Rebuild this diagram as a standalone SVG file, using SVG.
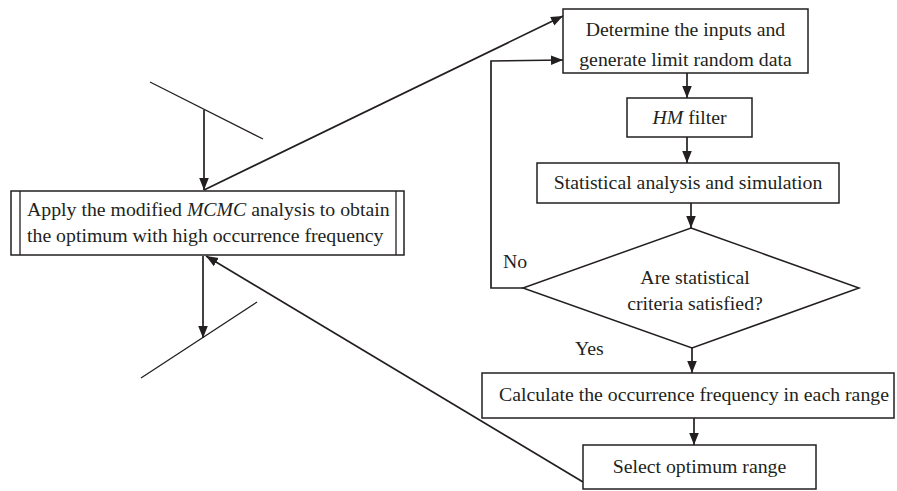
<svg xmlns="http://www.w3.org/2000/svg" width="897" height="491" viewBox="0 0 897 491">
<style>
.box{fill:#fff;stroke:#231f20;stroke-width:1.5}
.ln{fill:none;stroke:#231f20;stroke-width:1.7}
.thin{fill:none;stroke:#231f20;stroke-width:1.3}
text{font-family:"Liberation Serif","Times New Roman",serif;font-size:19.8px;fill:#231f20}
.c{text-anchor:middle}
</style>
<defs>
<marker id="ahl" viewBox="0 0 10 10" refX="10" refY="5" markerWidth="12" markerHeight="12" markerUnits="userSpaceOnUse" orient="auto">
<path d="M0,1 L10,5 L0,9 Z" fill="#231f20"/>
</marker>
</defs>
<g id="connectors">
<line class="thin" x1="150" y1="82" x2="263" y2="139"/>
<line class="ln" x1="204" y1="110" x2="204" y2="190" marker-end="url(#ahl)"/>
<line class="ln" x1="204" y1="190" x2="563" y2="16" marker-end="url(#ahl)"/>
<polyline class="ln" points="523,288 491,288 491,61 563,60" marker-end="url(#ahl)"/>
<line class="ln" x1="687" y1="73" x2="687" y2="98" marker-end="url(#ahl)"/>
<line class="ln" x1="687" y1="137" x2="687" y2="163" marker-end="url(#ahl)"/>
<line class="ln" x1="691" y1="203" x2="691" y2="228" marker-end="url(#ahl)"/>
<line class="ln" x1="692" y1="348" x2="692" y2="373" marker-end="url(#ahl)"/>
<line class="ln" x1="694" y1="418" x2="694" y2="445" marker-end="url(#ahl)"/>
<line class="ln" x1="583" y1="482" x2="206" y2="256" marker-end="url(#ahl)"/>
<line class="ln" x1="203" y1="256" x2="203" y2="338" marker-end="url(#ahl)"/>
<line class="thin" x1="141" y1="378" x2="257" y2="302"/>
</g>
<g id="node-mcmc">
<rect class="box" x="11" y="191" width="393" height="64"/>
<line class="thin" x1="20" y1="191" x2="20" y2="255"/>
<line class="thin" x1="396" y1="191" x2="396" y2="255"/>
<text x="27" y="216">Apply the modified <tspan font-style="italic">MCMC</tspan> analysis to obtain</text>
<text x="27" y="242">the optimum with high occurrence frequency</text>
</g>
<g id="node-determine">
<rect class="box" x="563" y="9" width="245" height="64"/>
<text class="c" x="685.5" y="36">Determine the inputs and</text>
<text class="c" x="685.5" y="66">generate limit random data</text>
</g>
<g id="node-hm">
<rect class="box" x="627" y="98" width="125" height="39"/>
<text class="c" x="689.5" y="124"><tspan font-style="italic">HM</tspan> filter</text>
</g>
<g id="node-stat">
<rect class="box" x="537" y="163" width="302" height="40"/>
<text class="c" x="688" y="189">Statistical analysis and simulation</text>
</g>
<g id="node-criteria">
<polygon class="box" points="691,228 859,288 692,348 523,288"/>
<text class="c" x="695" y="284">Are statistical</text>
<text class="c" x="695" y="310">criteria satisfied?</text>
</g>
<g id="labels">
<text x="503" y="268">No</text>
<text x="575" y="355">Yes</text>
</g>
<g id="node-calc">
<rect class="box" x="482" y="373" width="412" height="45"/>
<text class="c" x="694" y="401">Calculate the occurrence frequency in each range</text>
</g>
<g id="node-select">
<rect class="box" x="583" y="445" width="233" height="44"/>
<text class="c" x="699.5" y="473">Select optimum range</text>
</g>
</svg>
